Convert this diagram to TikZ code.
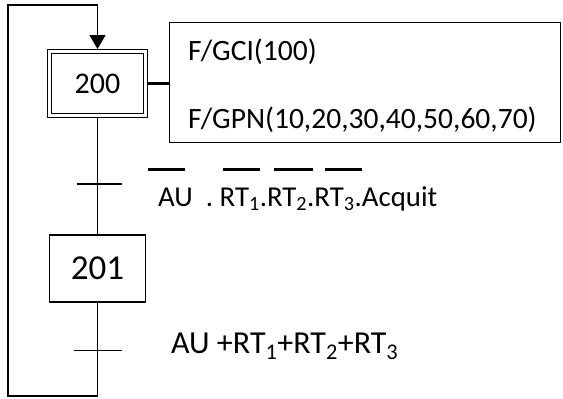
\documentclass[tikz,border=0pt]{standalone}
\usepackage{fontspec}
\setmainfont{Carlito}
\usetikzlibrary{positioning,arrows.meta,calc}

\begin{document}
\begin{tikzpicture}[
    x=1pt, y=1pt,
    etape/.style={draw, line width=1.4pt, minimum width=96pt, minimum height=67pt, inner sep=0pt},
    etapeinit/.style={etape, double, double distance=2.6pt, line width=1.2pt,
                      minimum width=96pt, minimum height=64pt, outer sep=2.5pt},
    actbox/.style={draw, line width=1.4pt, minimum width=391pt, minimum height=120pt, inner sep=0pt},
    trans/.style={line width=1.4pt},
    lien/.style={line width=1.4pt},
    barre/.style={line width=3pt},
    cond/.style={anchor=base west, inner sep=0pt},
    txt/.style={font=\fontsize{29.5}{32}\selectfont, anchor=base west, inner sep=0pt},
]
\useasboundingbox (0,0) rectangle (563,-399);

% Etapes
\node[etapeinit, font=\fontsize{30}{34}\selectfont] (e200) at (97.5,-83.5) {200};
\node[etape, font=\fontsize{35}{40}\selectfont] (e201) at (97.5,-268.5) {201};

% Actions
\node[actbox, right=21pt of e200, yshift=1pt] (act) {};
\node[txt] (a1) at ($(act.west)+(19,21.8)$) {F/GCI(100)};
\node[txt] (a2) at ($(act.west)+(19,-45.8)$) {F/GPN(10,20,30,40,50,60,70)};
\draw[lien, line width=2.6pt] (e200) -- (e200 -| act.west);

% Liaisons et transitions
\draw[lien] (e200.south) -- (e201.north);
\coordinate (t1) at (97.5,-184);
\coordinate (t2) at (97.5,-350.7);
\draw[trans] ($(t1)+(-21,0)$) -- ($(t1)+(24,0)$);
\draw[trans] ($(t2)+(-24,0)$) -- ($(t2)+(24,0)$);

% Retour
\coordinate (bas) at (8,-396);
\coordinate (haut) at (8,-5);
\draw[lien, -{Triangle[length=14pt,width=16pt]}] (e201.south) |- (bas) -- (haut) -| (e200.north);

% Receptivites
\node[cond, font=\fontsize{28.8}{32}\selectfont] (c1) at (158,-206)
    {AU\ \ .\ RT\textsubscript{1}.RT\textsubscript{2}.RT\textsubscript{3}.Acquit};
\foreach \xa/\xb in {148/185,223/260,274/313,325/362}
    \draw[barre] (\xa,-169) -- (\xb,-169);
\node[cond, font=\fontsize{32}{34}\selectfont] (c2) at (171,-353.5)
    {AU +RT\textsubscript{1}+RT\textsubscript{2}+RT\textsubscript{3}};

\end{tikzpicture}
\end{document}
